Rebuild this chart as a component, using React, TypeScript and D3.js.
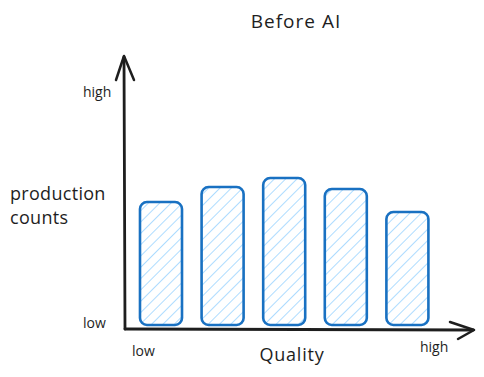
import React from "react";
import * as d3 from "d3";

const categories = ["Q1", "Q2", "Q3", "Q4", "Q5"];
const counts = [126, 141, 150, 139, 116];
const yTickLabels = ["low", "high"];
const xTickLabels = ["low", "high"];
const title = "Before AI";
const xTitle = "Quality";
const yTitle = ["production", "counts"];

const W = 484;
const H = 377;
const FONT = "'Open Sans', 'DejaVu Sans', sans-serif";

export default function App() {
  const x = d3.scaleBand<string>().domain(categories).range([120.4, 448]).paddingInner(0.318).paddingOuter(0.318);
  const y = d3.scaleLinear().domain([0, 240]).range([328, 88]);
  const axisColor = "#1e1e1e";
  const barStroke = "#1971c2";
  const hatch = "#a5d8ff";
  const x0 = 125;
  const y0 = 329;

  return (
    <svg width={W} height={H} style={{ position: "absolute", left: 0, top: 0, background: "#fff" }}>
      <defs>
        <pattern id="hatch" patternUnits="userSpaceOnUse" width="8" height="8" patternTransform="rotate(45)">
          <line x1="0" y1="0" x2="0" y2="8" stroke={hatch} strokeWidth="1.8" />
        </pattern>
      </defs>
      <rect x={0} y={0} width={W} height={H} fill="#fff" />
      <text x={296} y={28} textAnchor="middle" fontFamily={FONT} fontSize={19} letterSpacing={1} fill={axisColor}>{title}</text>

      {counts.map((v, i) => {
        const bx = x(categories[i])!;
        const top = y(v);
        const bottom = y(3);
        return (
          <rect key={i} x={bx} y={top} width={x.bandwidth()} height={bottom - top} rx={7} ry={7}
            fill="url(#hatch)" stroke={barStroke} strokeWidth={2.6} />
        );
      })}

      {/* axes */}
      <path d={`M${x0},${y0} L${x0 - 1},57`} stroke={axisColor} strokeWidth={2.8} fill="none" strokeLinecap="round" />
      <path d={`M116,80 L${x0 - 1},56 L134,80`} stroke={axisColor} strokeWidth={2.5} fill="none" strokeLinecap="round" strokeLinejoin="round" />
      <path d={`M${x0},${y0} L473,330`} stroke={axisColor} strokeWidth={2.8} fill="none" strokeLinecap="round" />
      <path d={`M450,322 L474,330 L458,339`} stroke={axisColor} strokeWidth={2.5} fill="none" strokeLinecap="round" strokeLinejoin="round" />

      <text x={83} y={97} fontFamily={FONT} fontSize={14} fill={axisColor}>{yTickLabels[1]}</text>
      <text x={83} y={328} fontFamily={FONT} fontSize={14} fill={axisColor}>{yTickLabels[0]}</text>
      <text x={132} y={356} fontFamily={FONT} fontSize={14} fill={axisColor}>{xTickLabels[0]}</text>
      <text x={420} y={352} fontFamily={FONT} fontSize={14} fill={axisColor}>{xTickLabels[1]}</text>
      <text x={292} y={361} textAnchor="middle" fontFamily={FONT} fontSize={18} letterSpacing={0.8} fill={axisColor}>{xTitle}</text>
      <text x={10} y={200} fontFamily={FONT} fontSize={18} letterSpacing={0.3} fill={axisColor}>{yTitle[0]}</text>
      <text x={10} y={224} fontFamily={FONT} fontSize={18} letterSpacing={0.3} fill={axisColor}>{yTitle[1]}</text>
    </svg>
  );
}
